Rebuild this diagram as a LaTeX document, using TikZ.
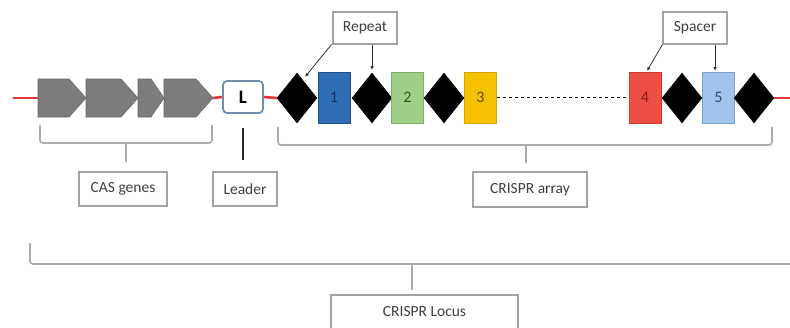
\documentclass[tikz,border=0pt]{standalone}
\usepackage{fontspec}
\setmainfont{Carlito}
\usetikzlibrary{shapes.geometric,arrows.meta,calc}
\definecolor{redline}{HTML}{E2383A}
\definecolor{genegray}{HTML}{7C7C7C}
\definecolor{bracketgray}{HTML}{ABABAB}
\definecolor{labelgray}{HTML}{3F3F3F}
\definecolor{boxedge}{HTML}{A2A2A2}
\definecolor{leaderedge}{HTML}{6F8FAE}
\definecolor{cA}{HTML}{2F6DB5}\definecolor{cAd}{HTML}{1F4F8A}\definecolor{tA}{HTML}{14305E}
\definecolor{cB}{HTML}{9FCF86}\definecolor{cBd}{HTML}{7FAE68}\definecolor{tB}{HTML}{2C5526}
\definecolor{cC}{HTML}{F6C100}\definecolor{cCd}{HTML}{D4A500}\definecolor{tC}{HTML}{6A4600}
\definecolor{cD}{HTML}{EE4F45}\definecolor{cDd}{HTML}{C83A33}\definecolor{tD}{HTML}{8A1616}
\definecolor{cE}{HTML}{A0C4EC}\definecolor{cEd}{HTML}{7AA0CC}\definecolor{tE}{HTML}{2F4A6A}
\tikzset{
  x=1pt, y=-1pt,
  redseg/.style={draw=redline, line width=2.6pt},
  gene/.style={fill=genegray, draw=genegray!85!black, line width=0.6pt},
  rpt/.style={diamond, fill=black, draw=black, minimum width=40pt, minimum height=50pt, inner sep=0pt},
  spc/.style={rectangle, minimum width=32pt, minimum height=51pt, inner sep=0pt, line width=1pt, font=\fontsize{16}{18}\selectfont},
  lbl/.style={rectangle, draw=boxedge, line width=1.1pt, fill=white, text=labelgray, inner sep=0pt, font=\fontsize{15.5}{18}\selectfont},
  brk/.style={draw=bracketgray, line width=1.6pt, rounded corners=3pt},
  ptr/.style={draw=black!80, line width=0.8pt, -{Latex[length=4pt,width=3.5pt]}},
}
\begin{document}
\begin{tikzpicture}
\useasboundingbox (0,0) rectangle (790,327);
\fill[white] (0,0) rectangle (790,327);
% genes
\draw[gene] (38,79) -- (69,79) -- (86,98) -- (69,117) -- (38,117) -- cycle;
\draw[gene] (86,79) -- (121,79) -- (138,98) -- (121,117) -- (86,117) -- cycle;
\draw[gene] (138,79) -- (151,79) -- (164,98) -- (151,117) -- (138,117) -- cycle;
\draw[gene] (164,79) -- (196,79) -- (213,98) -- (196,117) -- (164,117) -- cycle;
\coordinate (start) at (13,98);
\coordinate (g1w) at (38,98);
\coordinate (g4e) at (213,98);
\coordinate (finish) at (790,98);
% leader
\node[rectangle, rounded corners=4pt, draw=leaderedge, line width=1.8pt, fill=white, minimum width=40pt, minimum height=32pt, inner sep=0pt, font=\fontsize{19}{20}\selectfont\bfseries] (L) at (243,97) {L};
% repeats and spacers
\node[rpt] (d1) at (297,98) {};
\node[spc, fill=cA, draw=cAd, text=tA] (s1) at (334,97.5) {1};
\node[rpt] (d2) at (372,98) {};
\node[spc, fill=cB, draw=cBd, text=tB] (s2) at (407.5,97.5) {2};
\node[rpt] (d3) at (444,98) {};
\node[spc, fill=cC, draw=cCd, text=tC] (s3) at (480.5,97.5) {3};
\node[spc, fill=cD, draw=cDd, text=tD] (s4) at (645,97.5) {4};
\node[rpt] (d4) at (682,98) {};
\node[spc, fill=cE, draw=cEd, text=tE] (s5) at (718.5,97.5) {5};
\node[rpt] (d5) at (754,98) {};
% backbone
\draw[redseg] (start) -- (g1w);
\draw[redseg] (g4e) -- (L.west);
\draw[redseg] (L.east) -- (d1.west);
\draw[redseg] (d5.east) -- (finish);
\draw[black, line width=1pt, dash pattern=on 3pt off 3pt] (s3.east) -- (s4.west);
% top labels
\node[lbl, minimum width=64pt, minimum height=32pt] (rep) at (365,28) {Repeat};
\node[lbl, minimum width=64pt, minimum height=32pt] (spa) at (695,28) {Spacer};
\coordinate (repA) at (305,77);
\coordinate (repB) at (372,70);
\coordinate (spaA) at (647,71);
\coordinate (spaB) at (715,71);
\draw[ptr] ($(rep.south west)+(-1,0)$) -- (repA);
\draw[ptr] (rep.south -| repB) -- (repB);
\draw[ptr] (spa.south west) -- (spaA);
\draw[ptr] (spa.south -| spaB) -- (spaB);
% bottom labels
\node[lbl, minimum width=88pt, minimum height=34pt] (cas) at (123,189) {CAS genes};
\node[lbl, minimum width=64pt, minimum height=34pt] (lea) at (245,189) {Leader};
\node[lbl, minimum width=114pt, minimum height=35pt] (arr) at (530,189.5) {CRISPR array};
\node[lbl, minimum width=187pt, minimum height=34pt] (loc) at (424.5,312) {CRISPR Locus};
% brackets
\draw[brk] (40,125) -- (40,143) -- (212,143) -- (212,125);
\draw[bracketgray, line width=1.6pt] (126,143) -- (126,162);
\draw[brk] (278,127) -- (278,145) -- (772,145) -- (772,127);
\draw[bracketgray, line width=1.6pt] (526,145) -- (526,163);
\draw[brk] (30,243) -- (30,264) -- (792,264);
\draw[bracketgray, line width=1.6pt] (412,264) -- (412,290);
% leader pointer
\coordinate (leaTop) at (243,128);
\coordinate (leaBot) at (243,160);
\draw[black!85, line width=2pt] (leaTop) -- (leaBot);
\end{tikzpicture}
\end{document}
